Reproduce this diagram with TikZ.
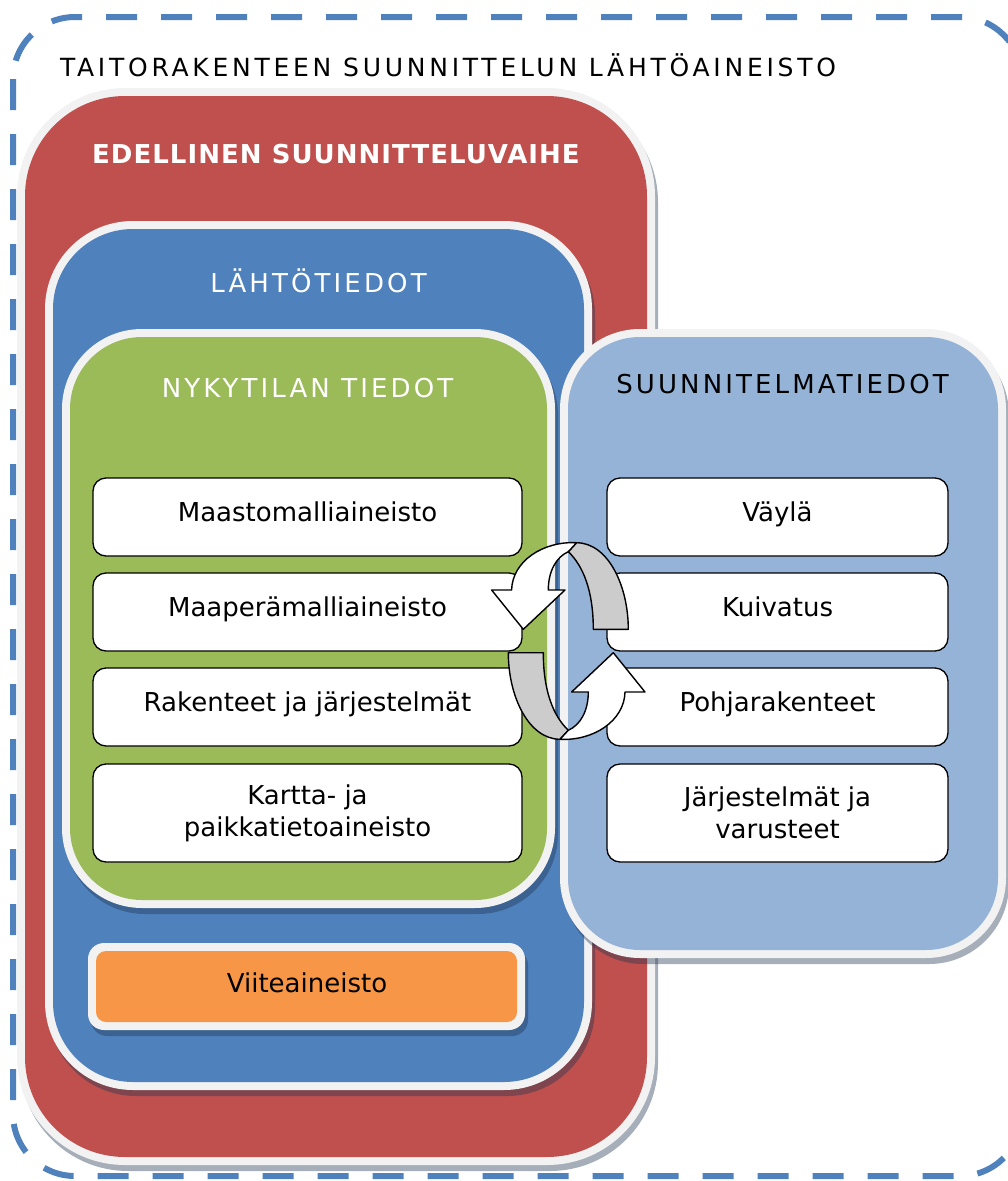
\documentclass[tikz,border=0pt]{standalone}
\usepackage{fontspec}
\setmainfont{DejaVu Sans}
\newfontfamily\titlefont[LetterSpace=15]{DejaVu Sans}
\newfontfamily\headfont[LetterSpace=12]{DejaVu Sans}
\newfontfamily\boldhead[LetterSpace=4]{DejaVu Sans}
\definecolor{cRed}{HTML}{C0504D}
\definecolor{cBlue}{HTML}{4F81BD}
\definecolor{cGreen}{HTML}{9BBB59}
\definecolor{cLight}{HTML}{95B3D7}
\definecolor{cOrange}{HTML}{F79646}
\definecolor{cHalo}{HTML}{F2F2F2}
\definecolor{cGray}{HTML}{CCCCCC}
\definecolor{cShadow}{HTML}{1F3550}
\newcommand\mypanel[7]{%
  \fill[cShadow,opacity=.4,rounded corners=#5pt] (#1+3,#2+6) rectangle (#3+3,#4+6);
  \fill[cHalo,rounded corners=#5pt] (#1,#2) rectangle (#3,#4);
  \fill[#7,rounded corners=#6pt] (#1+8,#2+8) rectangle (#3-8,#4-8);
}
\tikzset{
  outline/.style={draw=cBlue,line width=6pt,dash pattern=on 31pt off 24pt,rounded corners=62pt},
  wbox/.style={draw=black,line width=1.3pt,fill=white,rounded corners=13pt,
    font=\fontsize{26}{32}\selectfont,text height=19pt,text depth=10pt,inner sep=0pt},
  wboxtwo/.style={draw=black,line width=1.3pt,fill=white,rounded corners=13pt,
    font=\fontsize{26}{32}\selectfont,align=center,inner sep=0pt},
  headtxt/.style={anchor=base,inner sep=0pt,font=\fontsize{26}{30}\headfont},
  arrwhite/.style={draw=black,line width=1.4pt,fill=white,line join=round},
  arrgray/.style={draw=black,line width=1.4pt,fill=cGray,line join=round},
}
\begin{document}
\begin{tikzpicture}[x=1pt,y=-1pt]
\useasboundingbox (0,0) rectangle (1007,1181);
% outer dashed frame
\draw[outline] (13,17) rectangle (1022,1176);
\node[anchor=base,inner sep=0pt,font=\fontsize{25}{30}\titlefont] (title) at (448,76) {TAITORAKENTEEN SUUNNITTELUN LÄHTÖAINEISTO};
% red panel
\mypanel{17}{88}{655}{1165}{108}{100}{cRed}
\node[anchor=base,inner sep=0pt,text=white,font=\fontsize{26}{30}\boldhead\bfseries] (edellinen) at (336,163) {EDELLINEN SUUNNITTELUVAIHE};
% blue panel
\mypanel{45}{221}{592}{1090}{88}{80}{cBlue}
\node[headtxt,text=white] (lahto) at (318.5,292) {LÄHTÖTIEDOT};
% green panel
\mypanel{62}{329}{555}{908}{80}{72}{cGreen}
\node[headtxt,text=white] (nyky) at (307.5,397) {NYKYTILAN TIEDOT};
% light blue panel
\mypanel{560}{329}{1006}{958}{80}{72}{cLight}
\node[headtxt,text=black] (suunn) at (782.5,393) {SUUNNITELMATIEDOT};
% orange
\mypanel{88}{943}{525}{1030}{16}{10}{cOrange}
\node[anchor=base,inner sep=0pt,font=\fontsize{26}{30}\selectfont] (viite) at (307,992) {Viiteaineisto};
% left boxes
\node[wbox,minimum width=429pt,minimum height=78pt] (maasto) at (307.5,517) {Maastomalliaineisto};
\node[wbox,minimum width=429pt,minimum height=78pt] (maapera) at (307.5,612) {Maaperämalliaineisto};
\node[wbox,minimum width=429pt,minimum height=78pt] (rakenteet) at (307.5,707) {Rakenteet ja järjestelmät};
\node[wboxtwo,minimum width=429pt,minimum height=98pt] (kartta) at (307.5,813) {Kartta- ja\\paikkatietoaineisto};
% right boxes
\node[wbox,minimum width=341pt,minimum height=78pt] (vayla) at (777.5,517) {Väylä};
\node[wbox,minimum width=341pt,minimum height=78pt] (kuivatus) at (777.5,612) {Kuivatus};
\node[wbox,minimum width=341pt,minimum height=78pt] (pohja) at (777.5,707) {Pohjarakenteet};
\node[wboxtwo,minimum width=341pt,minimum height=98pt] (jarj) at (777.5,813) {Järjestelmät ja\\varusteet};
% circular arrows
\foreach \rot in {0,180}{
\begin{scope}[shift={(568.3,641)},rotate=\rot]
  \draw[arrgray] (0,-89.3) -- (8.3,-98.3) .. controls (40,-98) and (60,-55) .. (60,-11.7)
     -- (25,-11.7) .. controls (25,-50) and (15,-75) .. (0,-89.3) -- cycle;
  \draw[arrwhite] (0,-89.3) -- (8.3,-98.3) .. controls (-25,-100) and (-56,-80) .. (-56.7,-51)
     -- (-76.7,-51) -- (-45,-11.7) -- (-3.3,-51) -- (-20,-51)
     .. controls (-20,-70) and (-12,-84) .. (0,-89.3) -- cycle;
\end{scope}}
\end{tikzpicture}
\end{document}
